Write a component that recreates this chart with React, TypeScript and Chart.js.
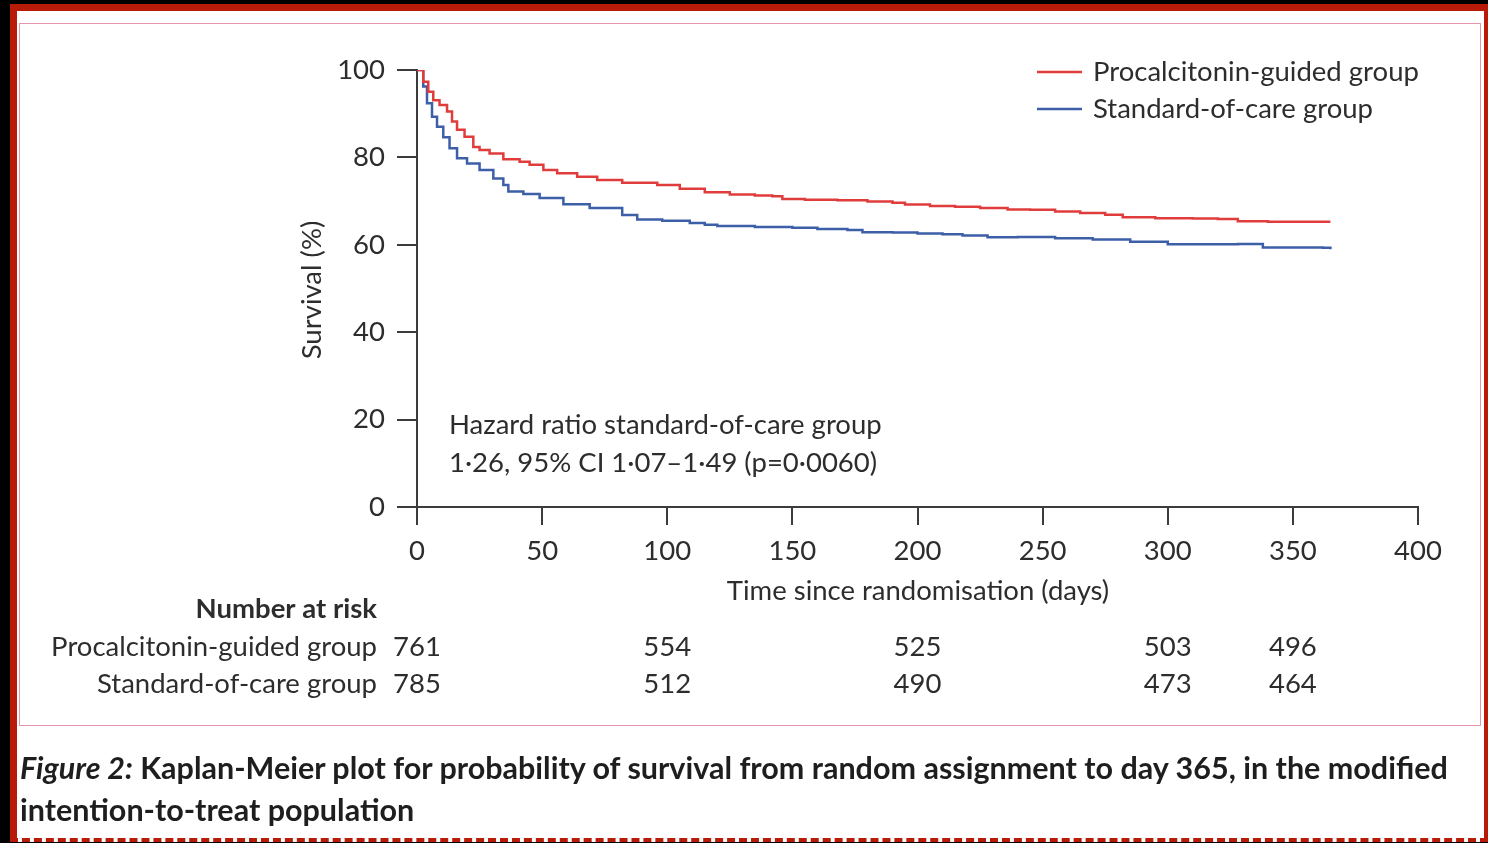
import React, { useEffect, useRef } from "react";
import { Chart, registerables } from "chart.js";

Chart.register(...registerables);

// Kaplan-Meier estimates (survival %, by day since randomisation)
const procalcitoninDays = [
  0, 1, 2.5, 4.5, 6.5, 9, 12, 14, 16, 19, 22.5, 25, 29, 34.5, 41, 45, 50.5,
  56, 64, 72, 82, 96, 105, 115, 125, 135, 142, 146, 155, 168, 180, 190, 195,
  205, 215, 225, 236, 245, 255, 265, 275, 282, 295, 310, 320, 328, 340, 352,
  365,
];
const procalcitoninSurvival = [
  100, 100, 97.3, 95.0, 93.1, 92.0, 90.5, 88.2, 86.3, 84.7, 82.4, 81.7, 80.9,
  79.6, 79.0, 78.3, 77.1, 76.4, 75.6, 74.8, 74.2, 73.7, 72.8, 72.0, 71.5,
  71.3, 71.1, 70.5, 70.3, 70.2, 69.9, 69.6, 69.2, 68.9, 68.7, 68.4, 68.1,
  68.0, 67.6, 67.3, 66.9, 66.3, 66.1, 66.0, 65.9, 65.4, 65.3, 65.3, 65.3,
];

const standardDays = [
  0, 1, 2.5, 4, 6, 8, 10.5, 13, 16, 20, 25, 30.5, 34.5, 36.5, 42.5, 49, 58.5,
  69, 82, 88, 98, 109, 115, 120, 135, 150, 160, 172, 178, 190, 200, 210, 218,
  228, 240, 255, 270, 285, 300, 315, 328, 338, 350, 362, 365,
];
const standardSurvival = [
  100, 100, 96.2, 92.4, 89.3, 87.0, 84.6, 82.1, 79.8, 78.6, 77.1, 75.2, 73.7,
  72.2, 71.6, 70.7, 69.3, 68.4, 66.8, 65.8, 65.5, 65.0, 64.6, 64.3, 64.1,
  63.9, 63.6, 63.4, 62.9, 62.8, 62.6, 62.4, 62.1, 61.7, 61.8, 61.5, 61.2,
  60.7, 60.1, 60.1, 60.2, 59.4, 59.4, 59.3, 59.0,
];

// Number at risk table
const riskDays = [0, 100, 200, 300, 350];
const riskProcalcitonin = [761, 554, 525, 503, 496];
const riskStandard = [785, 512, 490, 473, 464];

const groupNames = ["Procalcitonin-guided group", "Standard-of-care group"];
const hazardLines = [
  "Hazard ratio standard-of-care group",
  "1\u00b726, 95% CI 1\u00b707\u20131\u00b749 (p=0\u00b70060)",
];
const captionLead = "Figure 2:";
const captionBody =
  " Kaplan-Meier plot for probability of survival from random assignment to day 365, in the modified intention-to-treat population";

const RED = "#e03c3c";
const BLUE = "#3d5fa8";
const INK = "#2d2d2d";
const AXIS = "#3c3c3c";
const FONT = "Lato, 'Open Sans', sans-serif";
const TEXT_SIZE = 27.5;
const W = 1488;
const H = 843;

const toPoints = (xs: number[], ys: number[]) => xs.map((x, i) => ({ x, y: ys[i] }));

export default function App() {
  const canvasRef = useRef<HTMLCanvasElement | null>(null);

  useEffect(() => {
    document.body.style.margin = "0";
    const canvas = canvasRef.current;
    if (!canvas) return;

    const annotations = {
      id: "kmAnnotations",
      afterDraw(chart: any) {
        const ctx = chart.ctx as CanvasRenderingContext2D;
        const xs = chart.scales.x;
        ctx.save();
        ctx.fillStyle = INK;
        ctx.font = `${TEXT_SIZE}px ${FONT}`;

        // axis titles
        ctx.textAlign = "center";
        ctx.textBaseline = "alphabetic";
        ctx.fillText("Time since randomisation (days)", 918, 600);
        ctx.save();
        ctx.translate(321, 290);
        ctx.rotate(-Math.PI / 2);
        ctx.fillText("Survival (%)", 0, 0);
        ctx.restore();

        // legend
        const legendColors = [RED, BLUE];
        const legendBase = [81, 118];
        legendColors.forEach((c, i) => {
          ctx.strokeStyle = c;
          ctx.lineWidth = 2.5;
          ctx.beginPath();
          ctx.moveTo(1037, legendBase[i] - 9);
          ctx.lineTo(1082, legendBase[i] - 9);
          ctx.stroke();
          ctx.textAlign = "left";
          ctx.fillText(groupNames[i], 1093, legendBase[i]);
        });

        // hazard ratio
        ctx.textAlign = "left";
        ctx.fillText(hazardLines[0], 449, 434);
        ctx.fillText(hazardLines[1], 449, 472);

        // number at risk
        ctx.textAlign = "right";
        ctx.font = `bold ${TEXT_SIZE}px ${FONT}`;
        ctx.fillText("Number at risk", 377, 618);
        ctx.font = `${TEXT_SIZE}px ${FONT}`;
        ctx.fillText(groupNames[0], 377, 656);
        ctx.fillText(groupNames[1], 377, 693);
        ctx.textAlign = "center";
        riskDays.forEach((d, i) => {
          const px = xs.getPixelForValue(d);
          ctx.fillText(String(riskProcalcitonin[i]), px, 656);
          ctx.fillText(String(riskStandard[i]), px, 693);
        });
        ctx.restore();
      },
    };

    const chart = new Chart(canvas, {
      type: "line",
      data: {
        datasets: [
          {
            label: groupNames[0],
            data: toPoints(procalcitoninDays, procalcitoninSurvival),
            borderColor: RED,
            borderWidth: 2.5,
            pointRadius: 0,
            stepped: "before",
            fill: false,
          },
          {
            label: groupNames[1],
            data: toPoints(standardDays, standardSurvival),
            borderColor: BLUE,
            borderWidth: 2.5,
            pointRadius: 0,
            stepped: "before",
            fill: false,
          },
        ],
      },
      options: {
        animation: false,
        responsive: false,
        devicePixelRatio: 1,
        layout: { padding: { top: 70, right: 70, left: 0, bottom: 0 } },
        plugins: { legend: { display: false }, tooltip: { enabled: false } },
        scales: {
          x: {
            type: "linear",
            min: 0,
            max: 400,
            afterFit: (s: any) => {
              s.height = H - 507;
            },
            ticks: {
              stepSize: 50,
              maxRotation: 0,
              padding: 10,
              color: INK,
              font: { family: FONT, size: TEXT_SIZE },
            },
            grid: {
              display: true,
              drawOnChartArea: false,
              drawTicks: true,
              tickLength: 18,
              color: AXIS,
              lineWidth: 2,
            },
            border: { display: true, color: AXIS, width: 2 },
          },
          y: {
            min: 0,
            max: 100,
            afterFit: (s: any) => {
              s.width = 417;
            },
            ticks: {
              stepSize: 20,
              padding: 12,
              color: INK,
              font: { family: FONT, size: TEXT_SIZE },
            },
            grid: {
              display: true,
              drawOnChartArea: false,
              drawTicks: true,
              tickLength: 20,
              color: AXIS,
              lineWidth: 2,
            },
            border: { display: true, color: AXIS, width: 2 },
          },
        },
      },
      plugins: [annotations],
    } as any);

    return () => chart.destroy();
  }, []);

  return (
    <div
      style={{
        position: "relative",
        width: W,
        height: H,
        background: "#000",
        overflow: "hidden",
      }}
    >
      <div
        style={{
          position: "absolute",
          left: 10,
          top: 4,
          width: 1467,
          height: 827,
          background: "#fff",
          borderTop: "7px solid #b81c08",
          borderLeft: "7px solid #b81c08",
          borderRight: "4px solid #b81c08",
          borderBottom: "4px dashed #b81c08",
        }}
      />
      <div
        style={{
          position: "absolute",
          left: 19,
          top: 23,
          width: 1481 - 19,
          height: 726 - 23,
          border: "1.5px solid #e596aa",
          boxSizing: "border-box",
        }}
      />
      <canvas
        ref={canvasRef}
        width={W}
        height={H}
        style={{ position: "absolute", left: 0, top: 0, width: W, height: H }}
      />
      <div
        style={{
          position: "absolute",
          left: 20,
          top: 746,
          width: 1460,
          fontFamily: FONT,
          fontWeight: 700,
          fontSize: 30.5,
          lineHeight: "42px",
          color: "#1e1e1e",
          letterSpacing: "0px",
        }}
      >
        <i>{captionLead}</i>
        {captionBody}
      </div>
    </div>
  );
}
